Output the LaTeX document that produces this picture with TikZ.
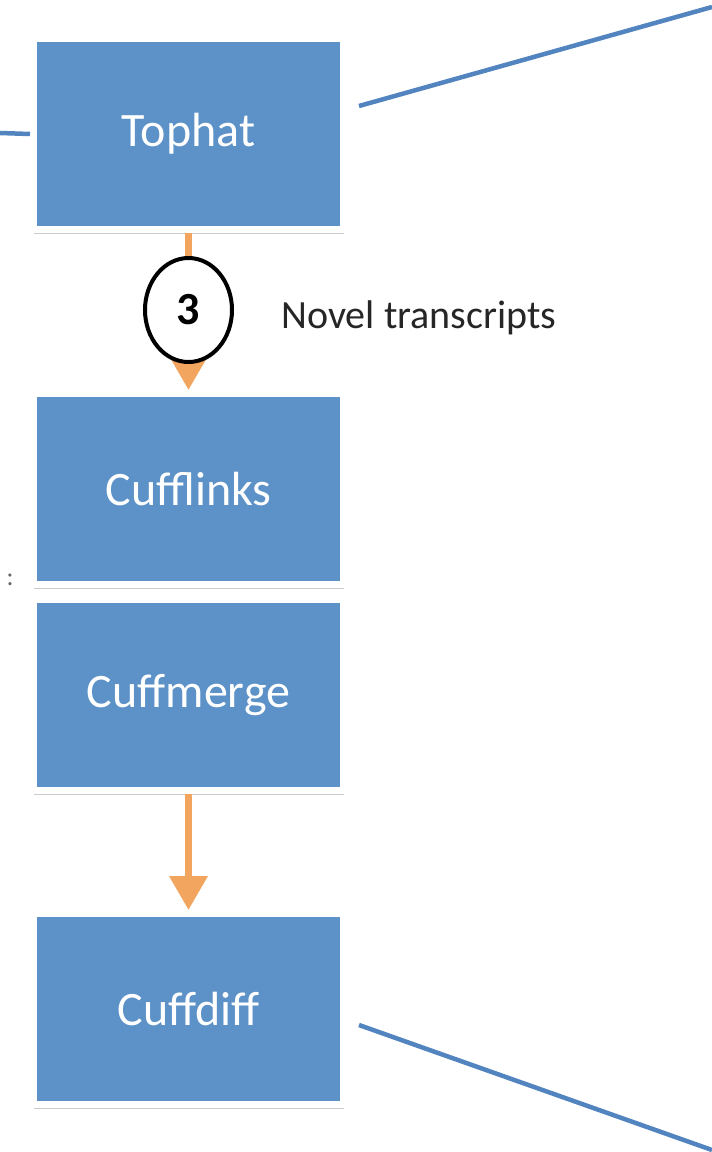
\documentclass[tikz,border=0pt]{standalone}
\usepackage{fontspec}
\setmainfont{Carlito}
\usetikzlibrary{arrows.meta}
\usetikzlibrary{shadows}
\usetikzlibrary{shapes.geometric}
\definecolor{boxblue}{RGB}{92,146,200}
\definecolor{lineblue}{RGB}{82,132,192}
\definecolor{arrorange}{RGB}{242,165,95}

\begin{document}
\begin{tikzpicture}[x=1pt, y=-1pt,
tool/.style = {rectangle, fill=boxblue, draw=white, line width=7pt,
            minimum width=310pt, minimum height=#1, inner sep=0pt,
            drop shadow={shadow xshift=0pt, shadow yshift=-4pt,
                         opacity=0.45, fill=black!45},
            text=white, font=\fontsize{48}{50}\selectfont},
tool/.default = 191pt,  % blue area plus the white frame
flow/.style = {arrorange, line width=7pt, -{Triangle[width=37pt,length=34pt]}},
link/.style = {lineblue, line width=4.5pt}
                ]
    \useasboundingbox (0,0) rectangle (712,1152);

    \foreach \y/\n/\t in {134/tophat/Tophat, 489/cufflinks/Cufflinks,
                          695/cuffmerge/Cuffmerge, 1009/cuffdiff/Cuffdiff}
        \node[tool] at (188.5,\y) (\n) {\t};

    \draw [flow] (tophat) -- (cufflinks);
    \draw [flow] (cuffmerge) -- (cuffdiff);

    \node[ellipse, draw=black, fill=white, line width=4pt, inner sep=0pt,
          minimum width=87pt, minimum height=104pt,
          font=\bfseries\fontsize{46}{48}\selectfont] at (188.5,310) (n3) {3};
    \node[anchor=west, text=black!85, font=\fontsize{40}{42}\selectfont]
          at (278,318) (novel) {Novel transcripts};
    \node[text=black!60, font=\fontsize{26}{26}\selectfont] at (10,580) (stray) {:};

    \coordinate (inleft) at (0,133);
    \coordinate (outtop) at (712,7);
    \coordinate (outbot) at (712,1150);
    \draw [link] (inleft) -- (tophat.west);
    \draw [link] ([shift={(12,-28)}]tophat.east) -- (outtop);
    \draw [link] ([shift={(12,16)}]cuffdiff.east) -- (outbot);
\end{tikzpicture}
\end{document}
